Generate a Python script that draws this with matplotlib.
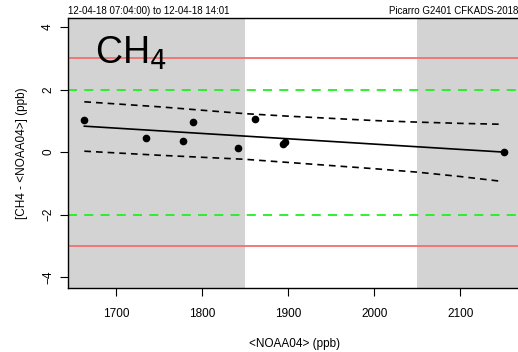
import numpy as np
import matplotlib
matplotlib.use("Agg")
import matplotlib.pyplot as plt

plt.rcParams['font.family'] = ['Liberation Sans', 'DejaVu Sans']

# --- datos ---
noaa = [1663, 1735, 1778, 1789, 1842, 1862, 1894, 1896, 2151]
diff = [1.02, 0.46, 0.34, 0.97, 0.14, 1.05, 0.25, 0.32, 0.01]

fit_x = [1663, 2151]
fit_y = [0.83, 0.00]

band_x = [1663, 1750, 1850, 1900, 1950, 2000, 2050, 2100, 2150]
band_hi = [1.61, 1.45, 1.23, 1.15, 1.08, 1.01, 0.96, 0.92, 0.89]
band_lo = [0.03, -0.10, -0.23, -0.33, -0.43, -0.53, -0.64, -0.78, -0.94]

shade_lo = 1850
shade_hi = 2050
x_ticks = [1700, 1800, 1900, 2000, 2100]
y_ticks = [-4, -2, 0, 2, 4]

xmin, xmax = 1644, 2170
ymin, ymax = -4.33, 4.29

fig = plt.figure(figsize=(5.18, 3.52), dpi=100)
ax = fig.add_axes([68 / 518, 1 - 287.5 / 352, (2170 - 1644) * 0.86 / 518, (287.5 - 18) / 352])

ax.axvspan(xmin, shade_lo, color='#d3d3d3', lw=0, zorder=0)
ax.axvspan(shade_hi, xmax, color='#d3d3d3', lw=0, zorder=0)

for v in (3, -3):
    ax.axhline(v, color='#f07070', lw=1.3, zorder=1)
for v in (2, -2):
    ax.axhline(v, color='#22ee22', lw=1.3, ls=(0, (5, 4)), zorder=1)

ax.plot(band_x, band_hi, color='black', lw=1.2, ls=(0, (4, 3)), zorder=2)
ax.plot(band_x, band_lo, color='black', lw=1.2, ls=(0, (4, 3)), zorder=2)
ax.plot(fit_x, fit_y, color='black', lw=1.2, zorder=3)
ax.plot(noaa, diff, 'o', color='black', ms=4.5, zorder=4)

ax.text(1675, 3.75, 'CH$_4$', fontsize=27, va='top', ha='left')

ax.set_xlim(xmin, xmax)
ax.set_ylim(ymin, ymax)
ax.set_xticks(x_ticks)
ax.set_yticks(y_ticks)
ax.tick_params(direction='out', length=6, width=0.8, labelsize=8.5)
ax.tick_params(axis='x', pad=9)
ax.tick_params(axis='y', labelrotation=90, pad=4)
for lbl in ax.get_yticklabels():
    lbl.set_va('center')
for side in ('left', 'top', 'bottom'):
    ax.spines[side].set_linewidth(1.0)
ax.spines['right'].set_visible(False)

ax.set_xlabel('<NOAA04> (ppb)', fontsize=8.5, labelpad=13)
ax.set_ylabel('[CH4 - <NOAA04>] (ppb)', fontsize=8.5, labelpad=10)

fig.text(68 / 518, 1 - 11.5 / 352, '12-04-18 07:04:00) to 12-04-18 14:01', fontsize=7, va='center', ha='left')
fig.text(1.0, 1 - 11.5 / 352, 'Picarro G2401 CFKADS-2018', fontsize=7, va='center', ha='right')

fig.savefig('out.png', dpi=100)
